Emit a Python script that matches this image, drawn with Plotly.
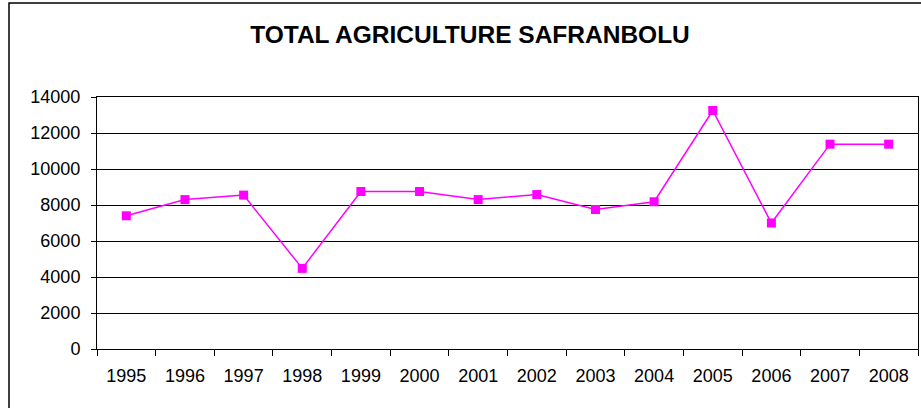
import plotly.graph_objects as go

years = ["1995", "1996", "1997", "1998", "1999", "2000", "2001",
         "2002", "2003", "2004", "2005", "2006", "2007", "2008"]
totals = [7400, 8300, 8550, 4480, 8750, 8750, 8300,
          8580, 7750, 8180, 13250, 7000, 11380, 11380]
y_ticks = [0, 2000, 4000, 6000, 8000, 10000, 12000, 14000]

W, H = 921, 408
L, R, T, B = 97, 3, 97, 59
plot_w = W - L - R
plot_h = H - T - B

fig = go.Figure(go.Scatter(
    x=years, y=totals, mode="lines+markers",
    line=dict(color="#FF00FF", width=1.5),
    marker=dict(symbol="square", size=9, color="#FF00FF"),
    showlegend=False,
))

# outer chart frame, expressed in paper coordinates
fig.add_shape(type="rect", xref="paper", yref="paper",
              x0=(9 - L) / plot_w, x1=(W + 5 - L) / plot_w,
              y0=(T + plot_h - (H + 5)) / plot_h, y1=(T + plot_h - 3) / plot_h,
              line=dict(color="black", width=1.5), fillcolor="rgba(0,0,0,0)",
              layer="below")

fig.update_layout(
    width=W, height=H,
    margin=dict(l=L, r=R, t=T, b=B),
    paper_bgcolor="white", plot_bgcolor="white",
    font=dict(family="Liberation Sans, Arial, sans-serif", size=18, color="black"),
    title=dict(text="<b>TOTAL AGRICULTURE SAFRANBOLU</b>",
               x=470 / W, xanchor="center", y=1 - 34 / H, yanchor="middle",
               font=dict(size=24.5, color="black")),
    xaxis=dict(type="category", range=[-0.5, 13.5], tickson="boundaries",
               ticks="outside", ticklen=6, tickcolor="black", tickwidth=1,
               ticklabelstandoff=10,
               showline=True, linecolor="black", linewidth=1, mirror=True,
               showgrid=False, zeroline=False,
               tickfont=dict(size=18)),
    yaxis=dict(range=[0, 14000], tickvals=y_ticks,
               ticktext=[str(v) for v in y_ticks],
               ticks="outside", ticklen=5, tickcolor="black",
               ticklabelstandoff=7,
               showline=True, linecolor="black", linewidth=1, mirror=True,
               showgrid=True, gridcolor="black", gridwidth=1,
               zeroline=False, tickfont=dict(size=18)),
)

fig.write_html("out.html")
